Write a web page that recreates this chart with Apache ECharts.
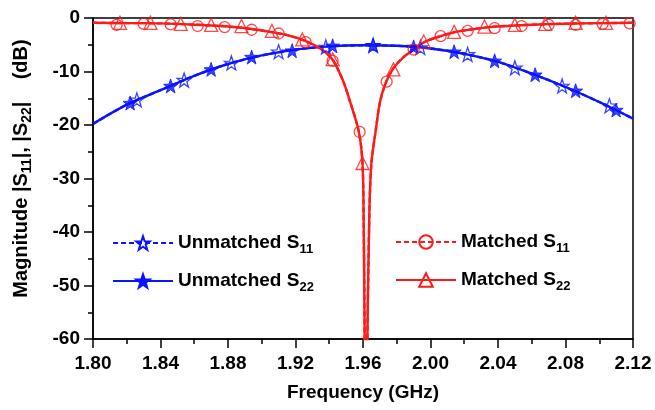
<!DOCTYPE html>
<html>
<head>
<meta charset="utf-8">
<script src="https://cdn.jsdelivr.net/npm/echarts@6/dist/echarts.min.js"></script>
<style>
  html, body { margin: 0; padding: 0; background: #fff; }
  #chart { width: 655px; height: 410px; }
</style>
</head>
<body>
<div id="chart"></div>
<script>
// Unmatched case: |S11| and |S22| traces lie on top of each other
const unmatchedCurveFreq = [1.80, 1.82, 1.84, 1.86, 1.88, 1.90, 1.92, 1.94, 1.96, 1.98, 2.00, 2.02, 2.04, 2.06, 2.08, 2.10, 2.12];
const unmatchedCurveDb   = [-19.8, -16.2, -13.5, -10.8, -8.6, -7.0, -5.9, -5.3, -5.1, -5.2, -5.7, -6.7, -8.2, -10.4, -12.9, -15.7, -18.8];

// Marker samples, unmatched S11 (open stars)
const unmatchedS11Freq = [1.826, 1.854, 1.882, 1.910, 1.938, 1.966, 1.994, 2.022, 2.050, 2.078, 2.106];
const unmatchedS11Db   = [-15.3, -11.6, -8.4, -6.3, -5.4, -5.1, -5.5, -6.8, -9.3, -12.7, -16.4];

// Marker samples, unmatched S22 (filled stars)
const unmatchedS22Freq = [1.822, 1.846, 1.870, 1.894, 1.918, 1.942, 1.966, 1.990, 2.014, 2.038, 2.062, 2.086, 2.110];
const unmatchedS22Db   = [-15.9, -12.7, -9.6, -7.3, -6.1, -5.2, -5.1, -5.4, -6.3, -8.0, -10.6, -13.6, -17.2];

// Matched case: deep notch near 1.962 GHz
const matchedCurveFreq = [1.800, 1.820, 1.840, 1.860, 1.880, 1.895, 1.905, 1.915, 1.925, 1.935, 1.942, 1.948, 1.952,
                          1.9575, 1.9597, 1.9604, 1.9610, 1.9618, 1.9626, 1.9638, 1.9650, 1.9676, 1.9700, 1.9735, 1.978,
                          1.984, 1.990, 1.997, 2.006, 2.015, 2.025, 2.035, 2.050, 2.070, 2.090, 2.120];
const matchedCurveDb   = [-0.9, -0.95, -1.0, -1.25, -1.6, -2.1, -2.6, -3.2, -4.2, -5.8, -7.8, -11.6, -15.3,
                          -21.2, -27.1, -38, -60, -85, -60, -36, -27.1, -20.9, -15.8, -12.1, -9.4,
                          -7.3, -5.9, -4.4, -3.4, -2.6, -2.1, -1.7, -1.4, -1.15, -1.0, -0.9];

// Marker samples, matched S11 (open circles)
const matchedS11Freq = [1.814, 1.830, 1.846, 1.862, 1.878, 1.894, 1.910, 1.926, 1.942, 1.958, 1.974, 1.990, 2.006, 2.022, 2.038, 2.054, 2.070, 2.086, 2.102, 2.118];
const matchedS11Db   = [-1.3, -1.1, -1.2, -1.5, -1.7, -2.2, -2.9, -4.5, -8.0, -21.3, -11.9, -5.9, -3.4, -2.4, -1.9, -1.5, -1.3, -1.3, -1.1, -1.0];

// Marker samples, matched S22 (open triangles)
const matchedS22Freq = [1.816, 1.834, 1.852, 1.870, 1.888, 1.906, 1.924, 1.942, 1.9597, 1.978, 1.996, 2.014, 2.032, 2.050, 2.068, 2.086, 2.104];
const matchedS22Db   = [-0.9, -0.9, -1.1, -1.3, -1.5, -2.4, -4.0, -7.7, -27.1, -9.6, -4.4, -2.6, -1.6, -1.3, -1.1, -0.9, -0.9];

const FONT = '"Liberation Sans", Arial, Helvetica, sans-serif';
const BLUE = '#0a14ff';
const RED = '#ff1a1a';
const STAR = 'path://M0,-10 L2.35,-3.24 L9.51,-3.09 L3.8,1.24 L5.88,8.09 L0,4 L-5.88,8.09 L-3.8,1.24 L-9.51,-3.09 L-2.35,-3.24 Z';

const zip = (xs, ys) => xs.map((x, i) => [x, ys[i]]);

function traceSeries(name, freq, db, color, dashed, symbol, symbolStyle) {
  return {
    name, type: 'line', data: zip(freq, db),
    smooth: 0.3,
    showSymbol: false, symbol, symbolSize: 13,
    lineStyle: { color, width: 2.4, type: dashed ? [5, 3] : 'solid' },
    itemStyle: symbolStyle,
    emphasis: { disabled: true },
    clip: true, z: 2
  };
}
function markerSeries(name, freq, db, symbol, size, symbolStyle) {
  return {
    name, type: 'scatter', data: zip(freq, db),
    symbol, symbolSize: size, itemStyle: symbolStyle,
    emphasis: { disabled: true }, z: 3
  };
}

const openStar   = { color: 'rgba(255,255,255,0)', borderColor: BLUE, borderWidth: 1.3 };
const filledStar = { color: BLUE, borderColor: BLUE, borderWidth: 1 };
const openCircle = { color: 'rgba(255,255,255,0)', borderColor: RED, borderWidth: 1.3 };
const openTri    = { color: 'rgba(255,255,255,0)', borderColor: RED, borderWidth: 1.3 };

const legendRich = {
  m: { fontFamily: FONT, fontSize: 19, fontWeight: 'bold', color: '#000', verticalAlign: 'top', lineHeight: 20 },
  s: { fontFamily: FONT, fontSize: 13, fontWeight: 'bold', color: '#000', verticalAlign: 'top', lineHeight: 14, padding: [10, 0, 0, 0] }
};
const legendFormatter = n => `{m|${n.slice(0, -2)}}{s|${n.slice(-2)}}`;
const legendBase = {
  orient: 'vertical', itemWidth: 60, itemHeight: 17, itemGap: 15, padding: 0,
  selectedMode: false, formatter: legendFormatter,
  textStyle: { rich: legendRich }
};

const chart = echarts.init(document.getElementById('chart'), null, { renderer: 'canvas' });
chart.setOption({
  animation: false,
  backgroundColor: '#fff',
  grid: { left: 93, right: 22, top: 18, bottom: 71, show: true, borderColor: '#000', borderWidth: 1.5, backgroundColor: 'transparent' },
  legend: [
    Object.assign({ left: 112, top: 233, data: ['Unmatched S11', 'Unmatched S22'] }, legendBase),
    Object.assign({ left: 395, top: 232, data: ['Matched S11', 'Matched S22'] }, legendBase)
  ],
  xAxis: {
    type: 'value', min: 1.80, max: 2.12, interval: 0.04,
    name: 'Frequency (GHz)', nameLocation: 'middle', nameGap: 44,
    nameTextStyle: { fontFamily: FONT, fontSize: 19, fontWeight: 'bold', color: '#000' },
    axisLine: { onZero: false, lineStyle: { color: '#000', width: 1.5 } },
    axisTick: { length: 9, lineStyle: { color: '#000', width: 1.5 } },
    minorTick: { show: true, splitNumber: 2, length: 5, lineStyle: { color: '#000', width: 1.5 } },
    splitLine: { show: false },
    axisLabel: { margin: 15, fontFamily: FONT, fontSize: 19, fontWeight: 'bold', color: '#000', formatter: v => v.toFixed(2) }
  },
  yAxis: {
    type: 'value', min: -60, max: 0, interval: 10,
    name: 'Magnitude |S{s|11}|, |S{s|22}|    (dB)', nameLocation: 'middle', nameGap: 59, nameRotate: 90,
    nameTextStyle: {
      fontFamily: FONT, fontSize: 20, fontWeight: 'bold', color: '#000', padding: [0, 0, 0, 20],
      rich: {
        s: { fontFamily: FONT, fontSize: 14, fontWeight: 'bold', color: '#000', padding: [11, 0, 0, 0] }
      }
    },
    axisLine: { onZero: false, lineStyle: { color: '#000', width: 1.5 } },
    axisTick: { length: 9, lineStyle: { color: '#000', width: 1.5 } },
    minorTick: { show: true, splitNumber: 2, length: 5, lineStyle: { color: '#000', width: 1.5 } },
    splitLine: { show: false },
    axisLabel: { margin: 13, fontFamily: FONT, fontSize: 19, fontWeight: 'bold', color: '#000' }
  },
  series: [
    traceSeries('Unmatched S11', unmatchedCurveFreq, unmatchedCurveDb, BLUE, true, STAR, openStar),
    traceSeries('Unmatched S22', unmatchedCurveFreq, unmatchedCurveDb, BLUE, false, STAR, filledStar),
    markerSeries('Unmatched S11 markers', unmatchedS11Freq, unmatchedS11Db, STAR, 14, openStar),
    markerSeries('Unmatched S22 markers', unmatchedS22Freq, unmatchedS22Db, STAR, 14, filledStar),
    traceSeries('Matched S11', matchedCurveFreq, matchedCurveDb, RED, true, 'circle', openCircle),
    traceSeries('Matched S22', matchedCurveFreq, matchedCurveDb, RED, false, 'triangle', openTri),
    markerSeries('Matched S11 markers', matchedS11Freq, matchedS11Db, 'circle', 11, openCircle),
    markerSeries('Matched S22 markers', matchedS22Freq, matchedS22Db, 'triangle', 13, openTri)
  ]
});
</script>
</body>
</html>
